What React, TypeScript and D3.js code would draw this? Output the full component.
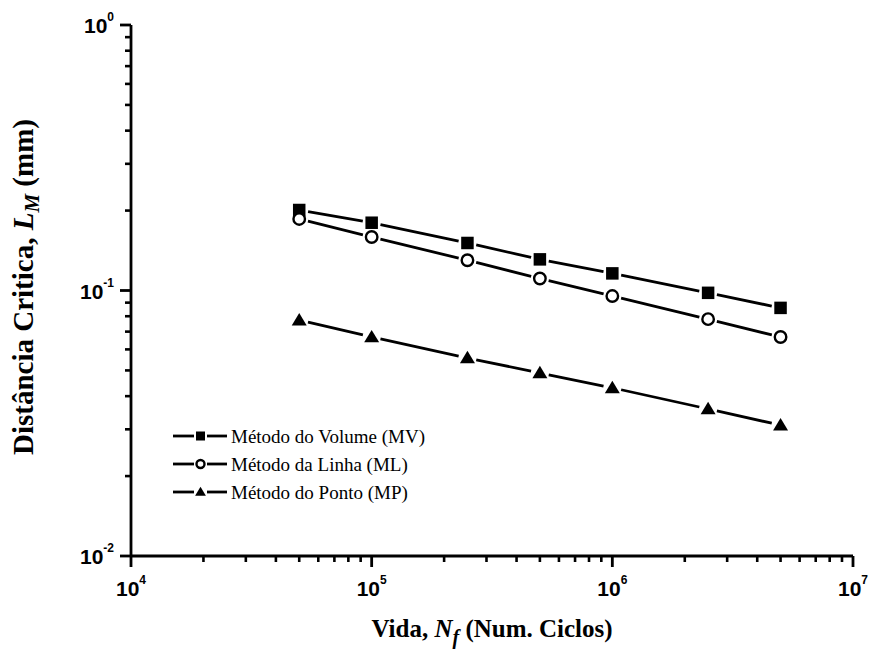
import React from "react";
import * as d3 from "d3";

const cycles = [5e4, 1e5, 2.5e5, 5e5, 1e6, 2.5e6, 5e6];
const mvValues = [0.201, 0.18, 0.151, 0.131, 0.116, 0.098, 0.086];
const mlValues = [0.186, 0.159, 0.13, 0.111, 0.0953, 0.078, 0.0668];
const mpValues = [0.0774, 0.0668, 0.0557, 0.0489, 0.043, 0.0358, 0.0311];
const seriesNames = ["Método do Volume (MV)", "Método da Linha (ML)", "Método do Ponto (MP)"];
const xTickExps = [4, 5, 6, 7];
const yTickExps = [-2, -1, 0];

const W = 869;
const H = 660;
const left = 131;
const right = 853;
const top = 25;
const bottom = 556;

const x = d3.scaleLog().domain([1e4, 1e7]).range([left, right]);
const y = d3.scaleLog().domain([1e-2, 1]).range([bottom, top]);

function Marker({ kind, cx, cy, s }: { kind: string; cx: number; cy: number; s: number }) {
  if (kind === "square") {
    return <rect x={cx - s / 2} y={cy - s / 2} width={s} height={s} fill="#000" />;
  }
  if (kind === "circle") {
    return <circle cx={cx} cy={cy} r={s / 2 - 0.5} fill="#fff" stroke="#000" strokeWidth={2.4} />;
  }
  const h = s * 0.95;
  const w = s * 1.2;
  return (
    <path
      d={`M${cx},${cy - h * 0.6} L${cx + w / 2},${cy + h * 0.45} L${cx - w / 2},${cy + h * 0.45} Z`}
      fill="#000"
    />
  );
}

function GapLine({ pts, gap }: { pts: [number, number][]; gap: number }) {
  const segs: JSX.Element[] = [];
  for (let i = 0; i < pts.length - 1; i++) {
    const [x0, y0] = pts[i];
    const [x1, y1] = pts[i + 1];
    const dx = x1 - x0;
    const dy = y1 - y0;
    const len = Math.hypot(dx, dy);
    const ux = dx / len;
    const uy = dy / len;
    segs.push(
      <line
        key={i}
        x1={x0 + ux * gap}
        y1={y0 + uy * gap}
        x2={x1 - ux * gap}
        y2={y1 - uy * gap}
        stroke="#000"
        strokeWidth={2.8}
      />
    );
  }
  return <g>{segs}</g>;
}

export default function App() {
  const series = [
    { name: seriesNames[0], values: mvValues, kind: "square" },
    { name: seriesNames[1], values: mlValues, kind: "circle" },
    { name: seriesNames[2], values: mpValues, kind: "triangle" },
  ];

  const xMinor: number[] = [];
  for (let e = 4; e < 7; e++) for (let k = 2; k <= 9; k++) xMinor.push(k * Math.pow(10, e));
  const yMinor: number[] = [];
  for (let e = -2; e < 0; e++) for (let k = 2; k <= 9; k++) yMinor.push(k * Math.pow(10, e));

  const tickFont = "Arial, 'Liberation Sans', sans-serif";
  const serif = "'Times New Roman', 'Liberation Serif', serif";

  return (
    <svg width={W} height={H} style={{ position: "absolute", left: 0, top: 0 }}>
      <rect width={W} height={H} fill="#fff" />
      {/* axes */}
      <line x1={left} y1={top} x2={left} y2={bottom} stroke="#000" strokeWidth={2.8} />
      <line x1={left} y1={bottom} x2={right} y2={bottom} stroke="#000" strokeWidth={2.8} />
      {/* x ticks */}
      {xTickExps.map((e) => (
        <line key={"xt" + e} x1={x(Math.pow(10, e))} x2={x(Math.pow(10, e))} y1={bottom} y2={bottom + 11} stroke="#000" strokeWidth={2.8} />
      ))}
      {xMinor.map((v) => (
        <line key={"xm" + v} x1={x(v)} x2={x(v)} y1={bottom} y2={bottom + 6} stroke="#000" strokeWidth={2.6} />
      ))}
      {xTickExps.map((e) => (
        <text key={"xl" + e} x={x(Math.pow(10, e))} y={bottom + 40} textAnchor="middle" fontFamily={tickFont} fontWeight="bold" fontSize={21}>
          10
          <tspan fontSize={12} dy={-12}>{e}</tspan>
        </text>
      ))}
      {/* y ticks */}
      {yTickExps.map((e) => (
        <line key={"yt" + e} x1={left - 11} x2={left} y1={y(Math.pow(10, e))} y2={y(Math.pow(10, e))} stroke="#000" strokeWidth={2.8} />
      ))}
      {yMinor.map((v) => (
        <line key={"ym" + v} x1={left - 6} x2={left} y1={y(v)} y2={y(v)} stroke="#000" strokeWidth={2.6} />
      ))}
      {yTickExps.map((e) => (
        <text key={"yl" + e} x={114} y={y(Math.pow(10, e)) + 8} textAnchor="end" fontFamily={tickFont} fontWeight="bold" fontSize={21}>
          10
          <tspan fontSize={12} dy={-12}>{e}</tspan>
        </text>
      ))}
      {/* data */}
      {series.map((s) => {
        const pts: [number, number][] = cycles.map((c, i) => [x(c), y(s.values[i])]);
        return (
          <g key={s.name}>
            <GapLine pts={pts} gap={9} />
            {pts.map(([px, py], i) => (
              <Marker key={i} kind={s.kind} cx={px} cy={py} s={12.5} />
            ))}
          </g>
        );
      })}
      {/* legend */}
      {series.map((s, i) => {
        const ly = 436 + i * 28;
        return (
          <g key={"lg" + i}>
            <line x1={173} x2={194} y1={ly} y2={ly} stroke="#000" strokeWidth={2.8} />
            <line x1={207} x2={227} y1={ly} y2={ly} stroke="#000" strokeWidth={2.8} />
            <Marker kind={s.kind} cx={200.5} cy={ly} s={9} />
            <text x={231} y={ly + 7} fontFamily={serif} fontSize={19}>
              {s.name}
            </text>
          </g>
        );
      })}
      {/* axis titles */}
      <text x={492} y={637} textAnchor="middle" fontFamily={serif} fontWeight="bold" fontSize={25}>
        Vida,{" "}
        <tspan fontStyle="italic">N</tspan>
        <tspan fontStyle="italic" fontSize={20} dy={7}>f</tspan>
        <tspan dy={-7}> (Num. Ciclos)</tspan>
      </text>
      <text
        transform={`translate(33,287) rotate(-90)`}
        textAnchor="middle"
        fontFamily={serif}
        fontWeight="bold"
        fontSize={29}
      >
        Distância Critica,{" "}
        <tspan fontStyle="italic">L</tspan>
        <tspan fontStyle="italic" fontSize={21} dy={6}>M</tspan>
        <tspan dy={-6}> (mm)</tspan>
      </text>
    </svg>
  );
}
